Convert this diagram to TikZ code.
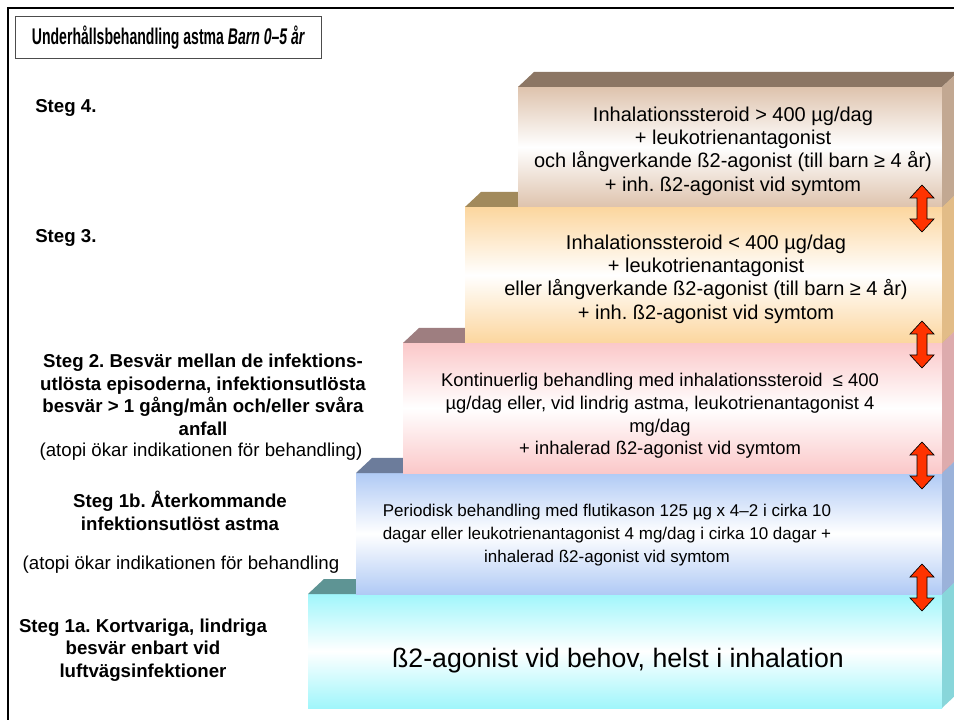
\documentclass[tikz,border=0pt]{standalone}
\usepackage{fontspec}
\setmainfont{Liberation Sans}
\usepackage{graphicx}
\frenchspacing

\definecolor{pilrod}{HTML}{FF3300}
% steg 4
\definecolor{fyraFram}{HTML}{DEC3AD}
\definecolor{fyraTopp}{HTML}{8C7664}
\definecolor{fyraSida}{HTML}{C2A892}
% steg 3
\definecolor{treFram}{HTML}{FCD69E}
\definecolor{treTopp}{HTML}{A28A5C}
\definecolor{treSida}{HTML}{E2BC87}
% steg 2
\definecolor{tvaFram}{HTML}{FBC8C9}
\definecolor{tvaTopp}{HTML}{9E7E80}
\definecolor{tvaSida}{HTML}{DDABAD}
% steg 1b
\definecolor{ettbFram}{HTML}{B0CAF5}
\definecolor{ettbTopp}{HTML}{6C7C9B}
\definecolor{ettbSida}{HTML}{9BB2DA}
% steg 1a
\definecolor{ettaFram}{HTML}{A0F6FB}
\definecolor{ettaTopp}{HTML}{5E9494}
\definecolor{ettaSida}{HTML}{88D6DA}

% #1 vanster x, #2 ovre y, #3 nedre y, #4 front, #5 topp, #6 sida
\newcommand{\trappsteg}[6]{%
  \shade[top color=#4, bottom color=#4, middle color=white] (#1,#2) rectangle (942,#3);
  \fill[#5] (#1,#2) -- ++(16,-15) -- (958,#2-15) -- (942,#2) -- cycle;
  \fill[#6] (942,#2) -- (958,#2-15) -- (958,#3-15) -- (942,#3) -- cycle;
}
% dubbelpil kring (x,y)
\newcommand{\dubbelpil}[2]{%
  \filldraw[fill=pilrod, draw=black, line width=0.5pt, line join=miter]
    (#1,#2-23.5) -- ++(12,13) -- ++(-7,0) -- ++(0,21) -- ++(7,0) -- ++(-12,13)
    -- ++(-12,-13) -- ++(7,0) -- ++(0,-21) -- ++(-7,0) -- cycle;
}

\tikzset{
  etikett/.style={align=center, inner sep=0pt, font=\fontsize{14}{16.9}\selectfont\bfseries},
  atopi/.style={inner sep=0pt, font=\fontsize{14}{16.9}\selectfont},
  stegtext/.style={align=center, inner sep=0pt},
  titelruta/.style={draw=black!70, fill=white, line width=0.6pt, minimum width=230pt, minimum height=32pt, inner sep=0pt}
}

\begin{document}
\begin{tikzpicture}[x=0.75pt,y=-0.75pt]
\useasboundingbox (0,0) rectangle (954,720);
\clip (0,0) rectangle (954,720);

%% ram
   \draw[line width=2pt] (8,740) -- (8,8) -- (975,8);

%% titel
   \node[titelruta] (titel) at (168.5,37.5)
     {\scalebox{0.62}[1]{\fontsize{17}{20}\selectfont\bfseries Underhållsbehandling astma \textit{Barn 0–5 år}}};

%% trappan, nerifran och upp
   \trappsteg{308}{594}{708}{ettaFram}{ettaTopp}{ettaSida}
   \trappsteg{356}{473}{594}{ettbFram}{ettbTopp}{ettbSida}
   \trappsteg{403}{343}{473}{tvaFram}{tvaTopp}{tvaSida}
   \trappsteg{465}{207}{343}{treFram}{treTopp}{treSida}
   \trappsteg{518}{87}{207}{fyraFram}{fyraTopp}{fyraSida}

%% pilar
   \dubbelpil{922}{208.5}
   \dubbelpil{922}{344.5}
   \dubbelpil{922}{465.5}
   \dubbelpil{922}{587.5}

%% text i stegen
   \node[stegtext, font=\fontsize{15}{17.5}\selectfont] (t4) at (733,151)
     {Inhalationssteroid > 400 µg/dag\\ + leukotrienantagonist\\ och långverkande ß2-agonist (till barn ≥ 4 år)\\ + inh. ß2-agonist vid symtom};
   \node[stegtext, font=\fontsize{15}{17.5}\selectfont] (t3) at (706,279)
     {Inhalationssteroid < 400 µg/dag\\ + leukotrienantagonist\\ eller långverkande ß2-agonist (till barn ≥ 4 år)\\ + inh. ß2-agonist vid symtom};
   \node[stegtext, font=\fontsize{13.8}{17}\selectfont] (t2) at (660,416)
     {Kontinuerlig behandling med inhalationssteroid \ ≤ 400\\ µg/dag eller, vid lindrig astma, leukotrienantagonist 4\\ mg/dag\\ + inhalerad ß2-agonist vid symtom};
   \node[stegtext, font=\fontsize{12.75}{17.5}\selectfont] (t1b) at (607,535)
     {Periodisk behandling med flutikason 125 µg x 4–2 i cirka 10\\ dagar eller leukotrienantagonist 4 mg/dag i cirka 10 dagar +\\ inhalerad ß2-agonist vid symtom};
   \node[stegtext, font=\fontsize{20}{24}\selectfont] (t1a) at (618,661)
     {ß2-agonist vid behov, helst i inhalation};

%% etiketter till vanster
   \node[etikett, anchor=west] (s4) at (35,108) {Steg 4.};
   \node[etikett, anchor=west] (s3) at (35,238) {Steg 3.};
   \node[etikett] (s2) at (203,395)
     {Steg 2. Besvär mellan de infektions-\\ utlösta episoderna, infektionsutlösta\\ besvär > 1 gång/mån och/eller svåra\\ anfall};
   \node[atopi] (s2a) at (201,452) {(atopi ökar indikationen för behandling)};
   \node[etikett] (s1b) at (180,511) {Steg 1b. Återkommande\\ infektionsutlöst astma};
   \node[atopi] (s1ba) at (181,565) {(atopi ökar indikationen för behandling};
   \node[etikett] (s1a) at (143,650) {Steg 1a. Kortvariga, lindriga\\ besvär enbart vid\\ luftvägsinfektioner};

\end{tikzpicture}
\end{document}
